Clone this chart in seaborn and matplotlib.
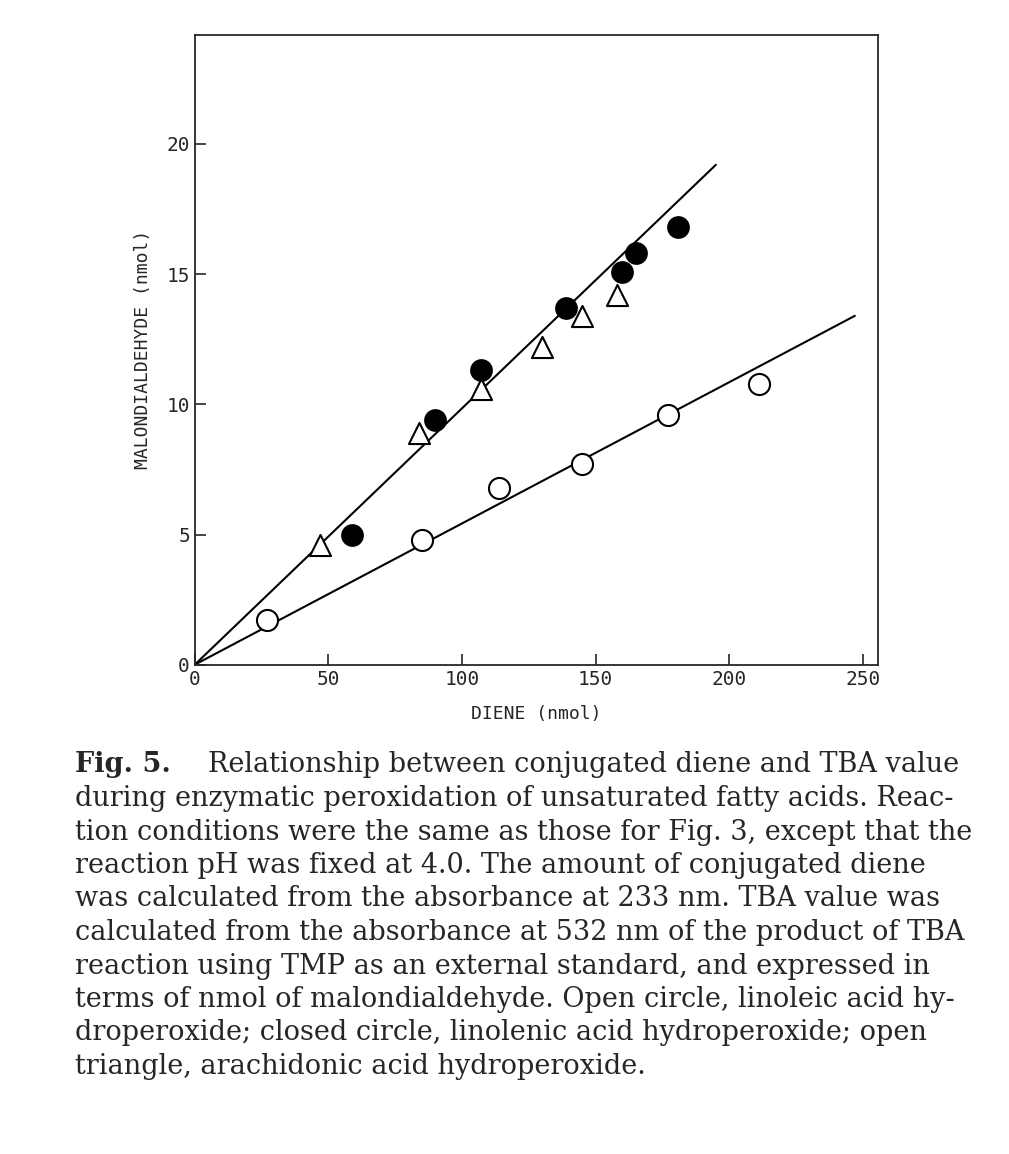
import numpy as np
import matplotlib
matplotlib.use("Agg")
import matplotlib.pyplot as plt
import seaborn as sns

# data
open_x = [27, 85, 114, 145, 177, 211]
open_y = [1.7, 4.8, 6.8, 7.7, 9.6, 10.8]
closed_x = [59, 90, 107, 139, 160, 165, 181]
closed_y = [5.0, 9.4, 11.3, 13.7, 15.1, 15.8, 16.8]
tri_x = [47, 84, 107, 130, 145, 158]
tri_y = [4.6, 8.9, 10.6, 12.2, 13.4, 14.2]
line_low_x = [0, 247]
line_low_y = [0, 13.4]
line_up_x = [0, 195]
line_up_y = [0, 19.2]

caption = [
    "during enzymatic peroxidation of unsaturated fatty acids. Reac-",
    "tion conditions were the same as those for Fig. 3, except that the",
    "reaction pH was fixed at 4.0. The amount of conjugated diene",
    "was calculated from the absorbance at 233 nm. TBA value was",
    "calculated from the absorbance at 532 nm of the product of TBA",
    "reaction using TMP as an external standard, and expressed in",
    "terms of nmol of malondialdehyde. Open circle, linoleic acid hy-",
    "droperoxide; closed circle, linolenic acid hydroperoxide; open",
    "triangle, arachidonic acid hydroperoxide.",
]

sns.set_style("ticks")
plt.rcParams['font.family'] = ['DejaVu Sans Mono']
fig = plt.figure(figsize=(10.09, 11.54), dpi=100)
ax = fig.add_axes([0.193, 0.424, 0.677, 0.546])

sns.lineplot(x=line_low_x, y=line_low_y, ax=ax, color="black", lw=1.5)
sns.lineplot(x=line_up_x, y=line_up_y, ax=ax, color="black", lw=1.5)
sns.scatterplot(x=open_x, y=open_y, ax=ax, marker="o", s=230, facecolor="white",
                edgecolor="black", linewidth=1.5, zorder=3)
sns.scatterplot(x=closed_x, y=closed_y, ax=ax, marker="o", s=230, color="black",
                edgecolor="black", zorder=3)
sns.scatterplot(x=tri_x, y=tri_y, ax=ax, marker="^", s=230, facecolor="white",
                edgecolor="black", linewidth=1.5, zorder=3)

ax.set_xlim(0, 255.6)
ax.set_ylim(0, 24.2)
ax.set_xticks([0, 50, 100, 150, 200, 250])
ax.set_yticks([0, 5, 10, 15, 20])
ax.tick_params(direction="in", length=8, width=1.2, labelsize=14)
for s in ax.spines.values():
    s.set_linewidth(1.3)
    s.set_visible(True)
ax.set_xlabel("DIENE (nmol)", fontsize=13, labelpad=12)
ax.set_ylabel("MALONDIALDEHYDE (nmol)", fontsize=13, labelpad=10)

serif = ["DejaVu Serif"]
y0 = 1 - 765 / 1154
fig.text(75 / 1009, y0, "Fig. 5.", family=serif, fontsize=19.5, fontweight="bold", va="center")
fig.text(208 / 1009, y0, "Relationship between conjugated diene and TBA value",
         family=serif, fontsize=19.5, va="center")
for i, line in enumerate(caption):
    fig.text(75 / 1009, y0 - (i + 1) * 33.5 / 1154, line, family=serif, fontsize=19.5, va="center")

fig.savefig("out.png", dpi=100)
